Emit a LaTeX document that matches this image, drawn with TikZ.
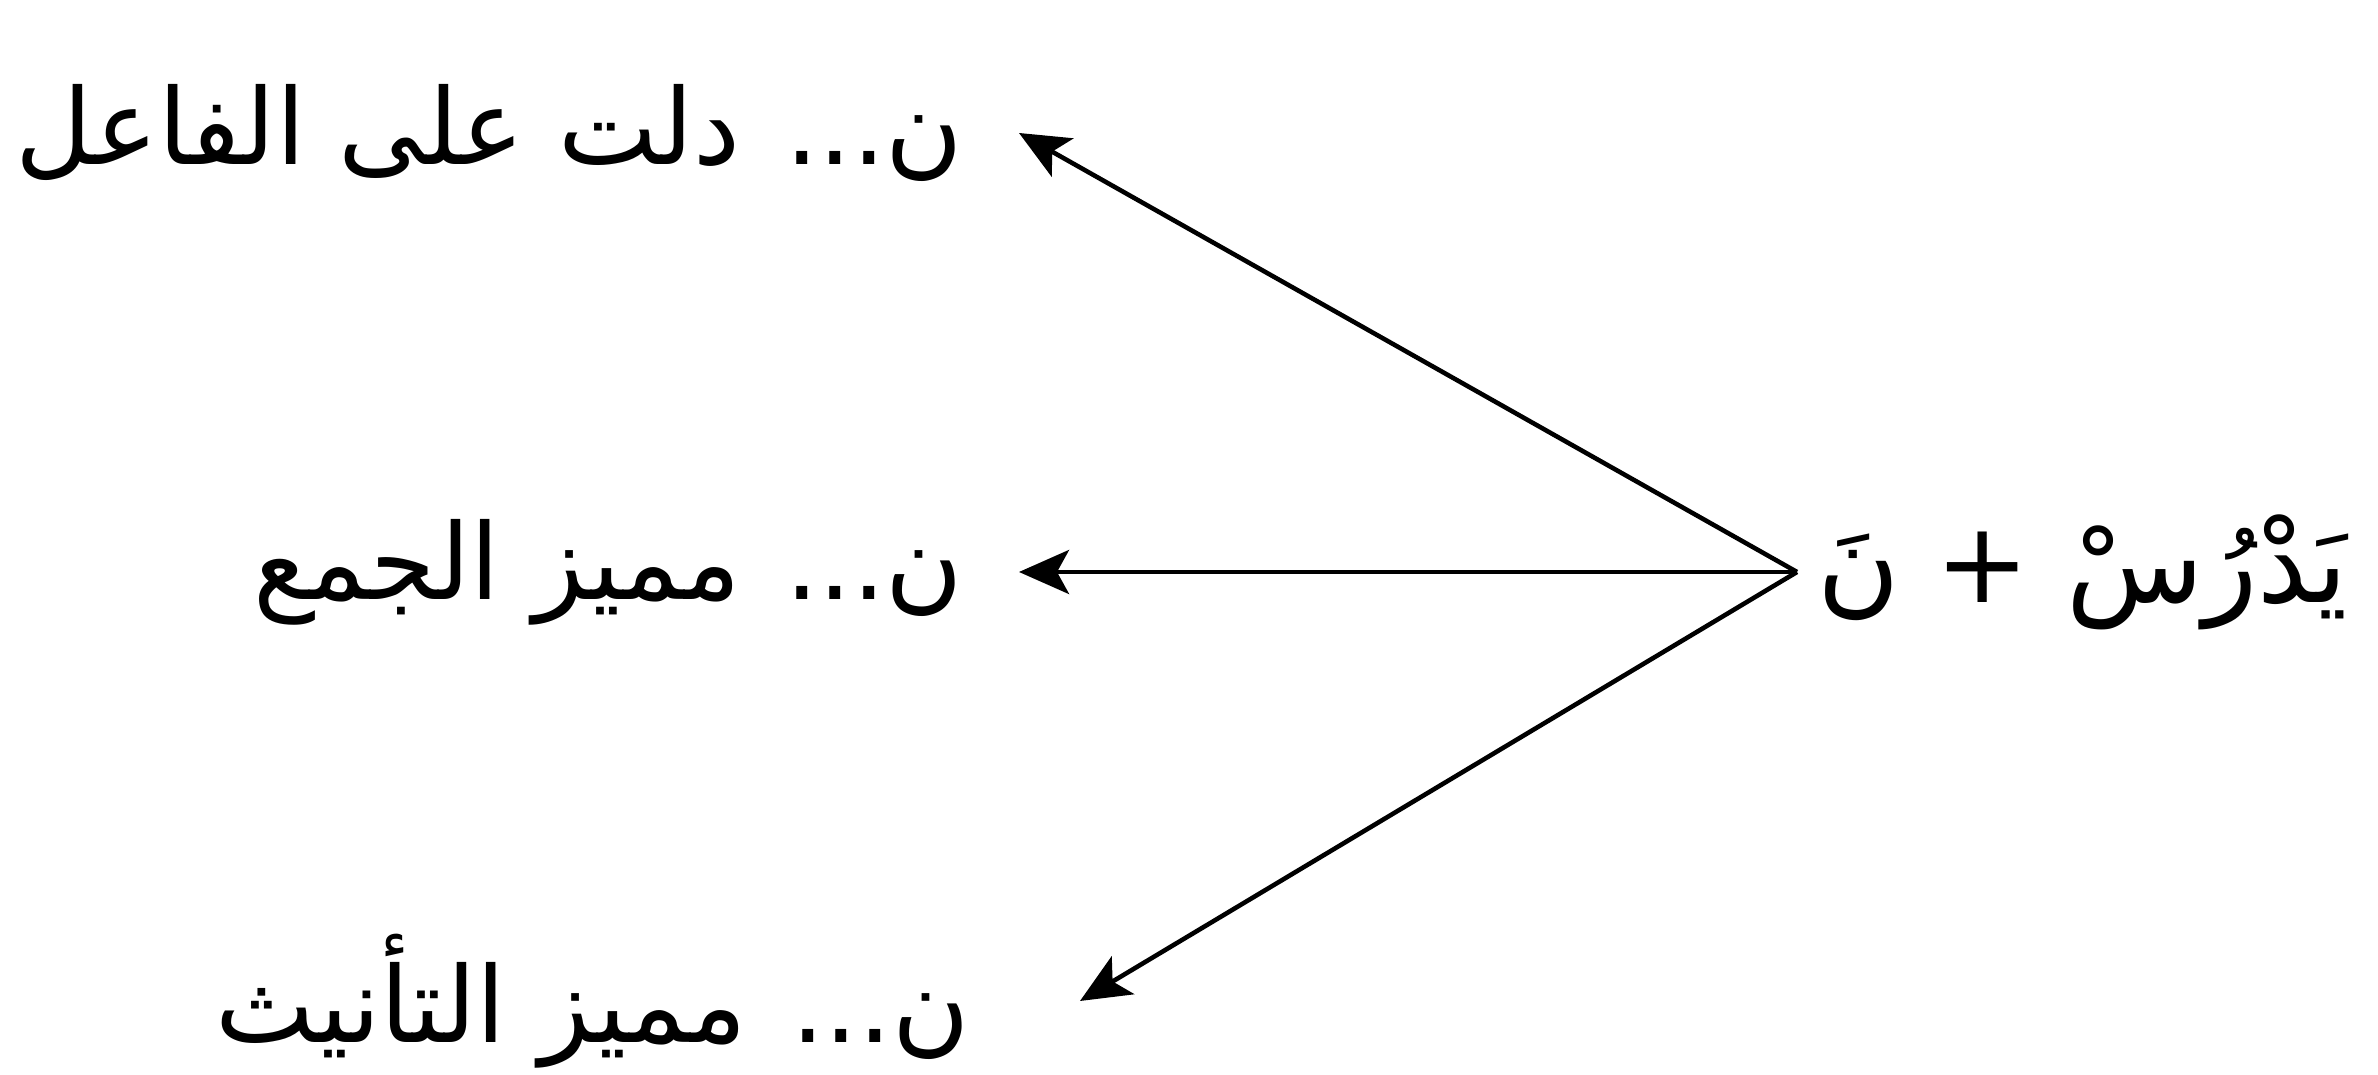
\documentclass[tikz,border=0pt]{standalone}
\usepackage{fontspec}
\usepackage{tikz}
\usetikzlibrary{arrows.meta}
\newfontfamily\arabicfont[Script=Arabic]{DejaVu Sans}
\TeXXeTstate=1

\begin{document}
\begin{tikzpicture}[
    lbl/.style={anchor=east, inner xsep=0.55cm, inner ysep=2pt,
                font=\arabicfont\fontsize{30}{34}\selectfont},
    stembox/.style={anchor=west, inner xsep=0.2cm, inner ysep=2pt,
                    font=\arabicfont\fontsize{32}{36}\selectfont},
    arr/.style={-{Stealth[length=5mm, width=4.4mm, inset=1.2mm]}, line width=1.3pt}
]
\useasboundingbox (0,0) rectangle (23.78,-10.75);

\node[stembox] (stem) at (17.97,-5.72) {\beginR يَدْرُسْ + نَ\endR};

\node[lbl] (agent)  at (10.19,-1.33)  {\beginR ن... دلت على الفاعل\endR};
\node[lbl] (plural) at (10.19,-5.72)  {\beginR ن... مميز الجمع\endR};
\node[lbl, inner xsep=1.1cm] (femin) at (10.80,-10.01)
    {\beginR ن... مميز التأنيث\endR};

\draw[arr] (stem.west) -- (agent.east);
\draw[arr] (stem.west) -- (plural.east);
\draw[arr] (stem.west) -- (femin.east);

\end{tikzpicture}
\end{document}
